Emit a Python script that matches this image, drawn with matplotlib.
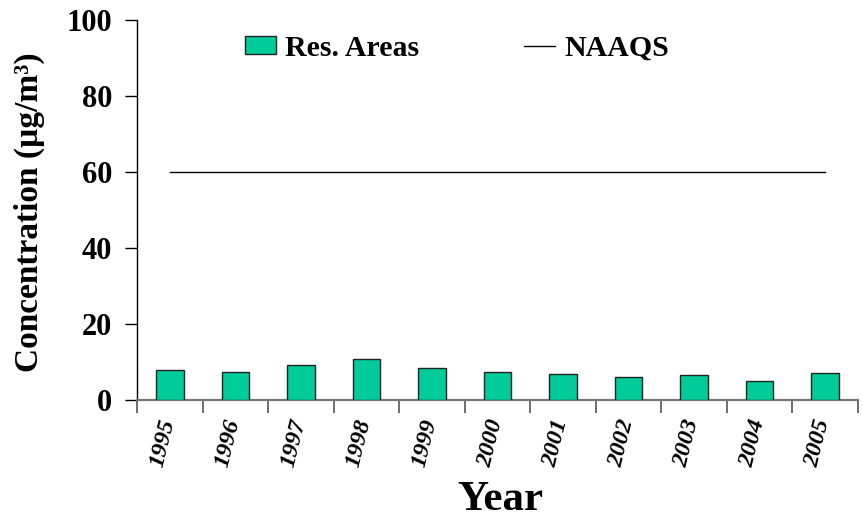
import matplotlib
matplotlib.use("Agg")
import matplotlib.pyplot as plt
import matplotlib.transforms as mtrans
from matplotlib.patches import Patch
from matplotlib.lines import Line2D
import numpy as np

years = ["1995", "1996", "1997", "1998", "1999", "2000", "2001", "2002", "2003", "2004", "2005"]
res_areas = [7.9, 7.5, 9.3, 10.7, 8.3, 7.3, 6.8, 6.1, 6.5, 5.0, 7.0]
naaqs = [60] * len(years)

plt.rcParams['font.family'] = ['Liberation Serif', 'DejaVu Serif']
plt.rcParams['font.weight'] = 'bold'

W, H = 863, 521
fig = plt.figure(figsize=(W / 100, H / 100), dpi=100)
ax = fig.add_axes([137 / W, 1 - 400 / H, (858 - 137) / W, (400 - 20) / H])

x = np.arange(len(years))
ax.bar(x, res_areas, width=0.42, color='#00CC99', edgecolor='#222222', linewidth=1.0, zorder=3)
ax.plot(x, naaqs, color='black', linewidth=1.0, zorder=4)

ax.set_xlim(-0.5, len(years) - 0.5)
ax.set_ylim(0, 100)
ax.set_yticks([0, 20, 40, 60, 80, 100])
ax.tick_params(axis='y', direction='out', length=9, width=1, labelsize=22, pad=9)
for lbl in ax.get_yticklabels():
    lbl.set_fontweight('bold')

ax.set_xticks(x)
ax.set_xticklabels(years, rotation=76, ha='right', va='top', fontsize=17.5,
                   fontweight='bold', fontstyle='italic')
ax.tick_params(axis='x', which='major', length=0, pad=12)
shift = mtrans.ScaledTranslation(9 / 100, 0, fig.dpi_scale_trans)
for lbl in ax.get_xticklabels():
    lbl.set_transform(lbl.get_transform() + shift)
ax.set_xticks(np.arange(-0.5, len(years), 1.0), minor=True)
ax.tick_params(axis='x', which='minor', direction='out', length=9, width=1.2, color='#555555')

for s in ['top', 'right']:
    ax.spines[s].set_visible(False)
ax.spines['left'].set_color('black')
ax.spines['left'].set_linewidth(1.0)
ax.spines['bottom'].set_color('#777777')
ax.spines['bottom'].set_linewidth(1.6)

ax.set_ylabel('Concentration (µg/m³)', fontsize=24, fontweight='bold')
ax.yaxis.set_label_coords((29 - 137) / 721, (400 - 212) / 380)
ax.yaxis.label.set_va('center')

ax.set_xlabel('Year', fontsize=31, fontweight='bold')
ax.xaxis.set_label_coords((500 - 137) / 721, (400 - 510) / 380)
ax.xaxis.label.set_va('baseline')

handles = [Patch(facecolor='#00CC99', edgecolor='#222222', linewidth=1.0),
           Line2D([0], [0], color='black', linewidth=1.0)]
fig.legend(handles, ['Res. Areas', 'NAAQS'], ncol=2, frameon=False,
           loc='upper left', bbox_to_anchor=(245 / W, 1 - 35 / H),
           borderpad=0, borderaxespad=0, handlelength=1.05, handleheight=0.55,
           handletextpad=0.3, columnspacing=3.5,
           prop={'family': 'Liberation Serif', 'weight': 'bold', 'size': 21.5})

fig.savefig('out.png', dpi=100)
